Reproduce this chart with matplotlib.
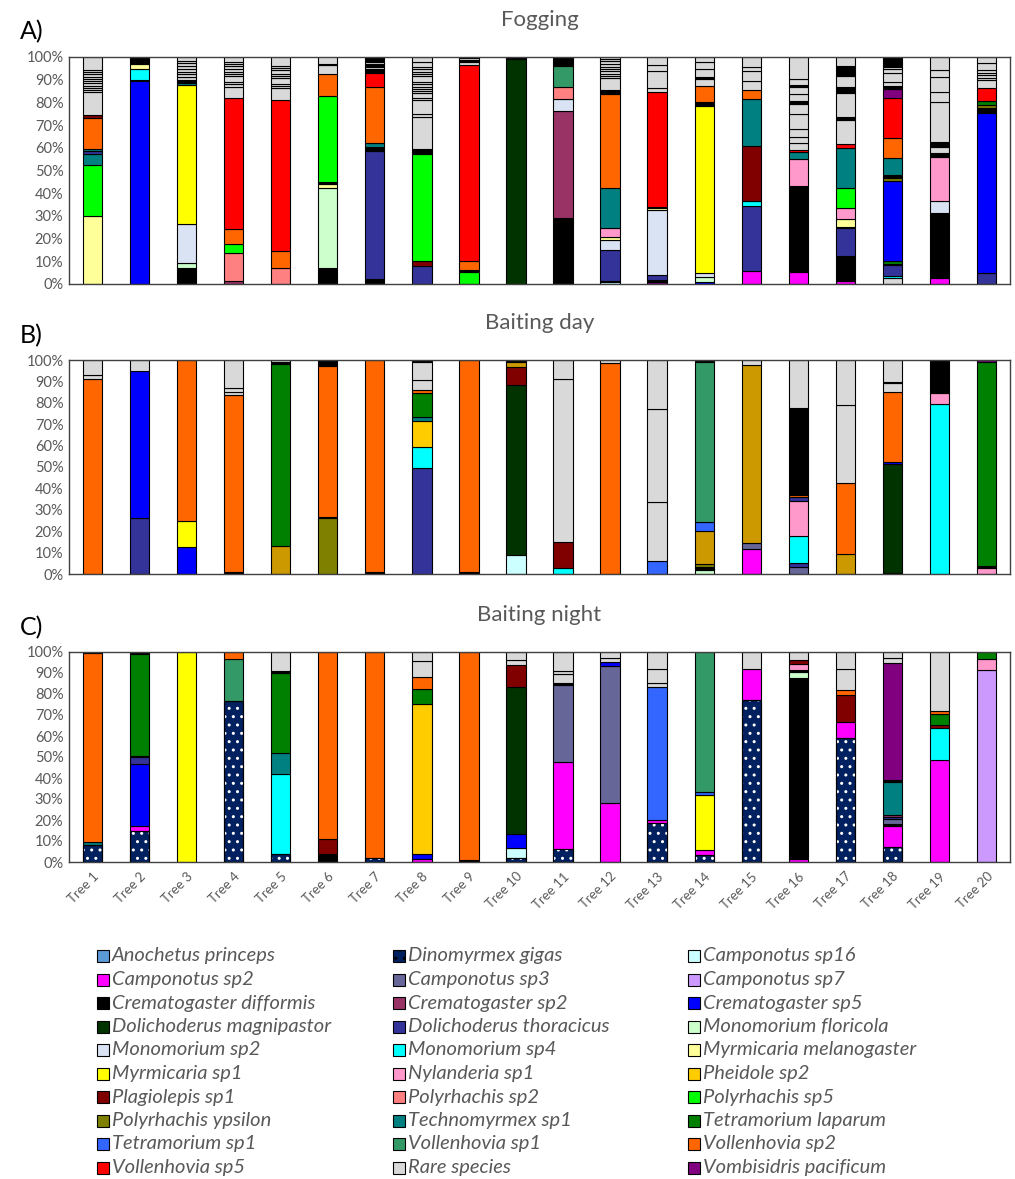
import matplotlib
matplotlib.use("Agg")
import matplotlib.pyplot as plt
from matplotlib.patches import Rectangle

plt.rcParams['font.family'] = ['Lato', 'DejaVu Sans']

# species: code, legend name, colour ('' name = not listed in legend)
codes = ['AP', 'DG', 'C16', 'C2', 'C3', 'C7', 'CD', 'CR2', 'CR5', 'DM',
         'DT', 'MF', 'M2', 'M4', 'MM', 'MY', 'NY', 'PH', 'PL', 'P2',
         'P5', 'PY', 'TE', 'TL', 'T1', 'V1', 'V2', 'V5', 'R', 'VP', 'XX']
names = ['Anochetus princeps', 'Dinomyrmex gigas', 'Camponotus sp16',
         'Camponotus sp2', 'Camponotus sp3', 'Camponotus sp7',
         'Crematogaster difformis', 'Crematogaster sp2', 'Crematogaster sp5',
         'Dolichoderus magnipastor', 'Dolichoderus thoracicus', 'Monomorium floricola',
         'Monomorium sp2', 'Monomorium sp4', 'Myrmicaria melanogaster',
         'Myrmicaria sp1', 'Nylanderia sp1', 'Pheidole sp2',
         'Plagiolepis sp1', 'Polyrhachis sp2', 'Polyrhachis sp5',
         'Polyrhachis ypsilon', 'Technomyrmex sp1', 'Tetramorium laparum',
         'Tetramorium sp1', 'Vollenhovia sp1', 'Vollenhovia sp2',
         'Vollenhovia sp5', 'Rare species', 'Vombisidris pacificum', '']
colors = ['#5B9BD5', '#002060', '#CCFFFF', '#FF00FF', '#666699', '#CC99FF',
          '#000000', '#993366', '#0000FF', '#003300', '#333399', '#CCFFCC',
          '#DAE3F3', '#00FFFF', '#FFFF99', '#FFFF00', '#FF99CC', '#FFCC00',
          '#800000', '#FF8080', '#00FF00', '#808000', '#008080', '#008000',
          '#3366FF', '#339966', '#FF6600', '#FF0000', '#D9D9D9', '#800080',
          '#CC9900']

trees = ['Tree %d' % i for i in range(1, 21)]
yticks = [0, 10, 20, 30, 40, 50, 60, 70, 80, 90, 100]

# stacked composition of each tree, bottom to top, in %
fogging = [
    [('MM', 29.8), ('P5', 22.5), ('TE', 5.1), ('DT', 1.2), ('TE', 1.0), ('V2', 13.4), ('PL', 1.3),
     ('R', 10.1), ('R', 1), ('R', 1), ('R', 1), ('R', 1), ('R', 1), ('R', 1), ('R', 0.9),
     ('R', 1), ('R', 1), ('R', 1), ('R', 5.7)],
    [('CR5', 89.5), ('TE', 0.5), ('M4', 4.5), ('MM', 2.5), ('TE', 0.5), ('CD', 2.5)],
    [('CD', 6.9), ('MF', 2.5), ('M2', 17.2), ('MY', 61.1), ('TE', 1.0), ('CD', 1.2),
     ('R', 1.5), ('R', 1), ('R', 1), ('R', 1.5), ('R', 1), ('R', 1.5), ('R', 1), ('R', 1.6)],
    [('CR2', 1.2), ('P2', 12.3), ('P5', 4.0), ('V2', 6.7), ('V5', 57.9), ('R', 4.9),
     ('R', 1), ('R', 1), ('R', 2.5), ('R', 1), ('R', 1), ('R', 1), ('R', 1.5), ('R', 1), ('R', 1), ('R', 2)],
    [('P2', 7.2), ('V2', 7.3), ('V5', 66.5), ('R', 5.2), ('R', 1), ('R', 1), ('R', 2.5),
     ('R', 1), ('R', 1), ('R', 1.5), ('R', 1), ('R', 1), ('R', 3.8)],
    [('CD', 7.2), ('MF', 34.9), ('MM', 1.8), ('CD', 1.0), ('P5', 37.9), ('V2', 9.7),
     ('R', 4.0), ('CD', 0.5), ('R', 3.5)],
    [('CD', 2.3), ('DT', 56.3), ('CD', 1.9), ('TE', 1.8), ('V2', 24.7), ('V5', 5.8),
     ('CD', 2.0), ('R', 0.8), ('CD', 1.5), ('R', 0.8), ('CD', 2.1)],
    [('DT', 7.9), ('PL', 2.1), ('P5', 47.3), ('CD', 1.6), ('R', 0.5), ('R', 14.3), ('R', 1.2),
     ('R', 6.1), ('R', 1), ('R', 2), ('R', 1), ('R', 1), ('R', 1), ('R', 1), ('R', 1), ('R', 2.5),
     ('R', 1), ('R', 1), ('R', 1), ('R', 1), ('R', 2.5), ('R', 2)],
    [('P5', 5.4), ('CD', 0.8), ('V2', 3.8), ('V5', 86.5), ('R', 1.5), ('CD', 0.5), ('R', 1.0), ('CD', 0.5)],
    [('DM', 99.0), ('CD', 1.0)],
    [('CD', 29.2), ('CR2', 47.0), ('M2', 5.2), ('P2', 5.2), ('V1', 9.6), ('CD', 1.7),
     ('R', 0.5), ('CD', 1.6)],
    [('C16', 1.0), ('CD', 0.5), ('DT', 13.5), ('M2', 4.4), ('MM', 1.4), ('NY', 3.7), ('TE', 17.9),
     ('V2', 41.1), ('CD', 2.0), ('R', 5.1), ('R', 1), ('R', 1), ('R', 1.2), ('R', 1), ('R', 1),
     ('R', 1), ('R', 1.5), ('R', 0.7), ('R', 1)],
    [('VP', 1.0), ('CD', 0.8), ('DT', 2.2), ('M2', 28.6), ('MM', 1.0), ('CD', 0.4), ('V5', 50.4),
     ('R', 2.1), ('R', 7.5), ('R', 2.5), ('R', 3.5)],
    [('CR5', 1.0), ('MF', 2.0), ('M2', 2.0), ('MY', 73.6), ('CD', 1.4), ('V2', 7.2), ('R', 3.3),
     ('CD', 0.8), ('R', 3.4), ('R', 3), ('R', 2.3)],
    [('C2', 5.7), ('DT', 28.8), ('M4', 2.1), ('PL', 24.4), ('TE', 20.5), ('V2', 4.0),
     ('R', 4.1), ('R', 4.1), ('R', 2.0), ('R', 4.3)],
    [('C2', 5.4), ('CD', 37.8), ('NY', 11.7), ('TE', 3.1), ('V5', 1.0), ('R', 3.0), ('R', 2.6),
     ('R', 3.5), ('R', 6.6), ('R', 4.6), ('CD', 1.5), ('R', 3.0), ('R', 2.9), ('CD', 1.0),
     ('R', 2.5), ('R', 9.8)],
    [('C2', 1.5), ('CD', 10.8), ('DT', 12.2), ('CD', 0.8), ('MM', 3.3), ('NY', 5.0), ('P5', 8.5),
     ('TE', 17.7), ('V5', 1.9), ('R', 10.5), ('CD', 1.5), ('R', 10.3), ('CD', 2.6), ('R', 5.0),
     ('CD', 4.4), ('R', 4.0)],
    [('R', 2.8), ('M4', 0.6), ('DT', 5.0), ('CD', 0.6), ('TL', 1.3), ('CR5', 35.1), ('PY', 1.3),
     ('CD', 1.3), ('TE', 7.4), ('V2', 8.8), ('V5', 17.6), ('VP', 4.1), ('CD', 1.3), ('R', 1.8),
     ('R', 4.0), ('R', 1.9), ('R', 0.8), ('CD', 4.3)],
    [('C2', 2.5), ('CD', 28.6), ('M2', 5.6), ('NY', 19.1), ('CD', 1.8), ('R', 2.9), ('CD', 2.2),
     ('R', 17.6), ('R', 4.4), ('R', 6.6), ('R', 3.0), ('R', 5.7)],
    [('DT', 4.7), ('CR5', 70.8), ('CD', 1.9), ('PY', 1.4), ('TL', 2.0), ('V5', 5.4), ('R', 3.7),
     ('R', 1), ('R', 1), ('R', 1), ('R', 1.4), ('R', 3), ('R', 2.7)],
]

baiting_day = [
    [('V2', 91.0), ('R', 2.0), ('R', 7.0)],
    [('DT', 26.3), ('CR5', 68.6), ('R', 5.1)],
    [('CR5', 12.8), ('MY', 12.1), ('V2', 75.1)],
    [('CD', 1.0), ('V2', 82.6), ('R', 1.5), ('R', 1.9), ('R', 13.0)],
    [('XX', 13.1), ('TL', 85.0), ('CD', 0.9), ('R', 1.0)],
    [('PY', 26.0), ('CD', 0.8), ('V2', 70.4), ('CD', 2.8)],
    [('CD', 1.0), ('V2', 99.0)],
    [('DT', 49.4), ('M4', 10.1), ('PH', 12.2), ('TE', 1.5), ('TL', 11.2), ('V2', 1.6),
     ('R', 4.7), ('R', 8.5), ('CD', 0.8)],
    [('CD', 0.8), ('V2', 99.2)],
    [('C16', 8.9), ('DM', 79.4), ('PL', 8.6), ('XX', 2.3), ('CD', 0.8)],
    [('M4', 2.6), ('PL', 12.2), ('R', 76.3), ('R', 8.9)],
    [('V2', 98.4), ('R', 1.6)],
    [('T1', 6.2), ('R', 27.6), ('R', 43.3), ('R', 22.9)],
    [('MF', 1.9), ('CD', 1.5), ('PY', 1.3), ('XX', 15.5), ('T1', 4.3), ('V1', 74.7), ('CD', 0.8)],
    [('C2', 11.7), ('C3', 2.6), ('XX', 83.4), ('R', 2.3)],
    [('C3', 3.4), ('DT', 1.6), ('M4', 12.8), ('NY', 16.5), ('DT', 1.8), ('V2', 0.9),
     ('CD', 40.7), ('R', 22.3)],
    [('XX', 9.2), ('V2', 33.2), ('R', 36.6), ('R', 21.0)],
    [('CD', 0.5), ('DM', 50.7), ('CR5', 1.0), ('V2', 32.7), ('R', 4.5), ('CD', 0.5), ('R', 10.1)],
    [('M4', 79.3), ('NY', 5.4), ('CD', 15.3)],
    [('NY', 2.6), ('CD', 1.3), ('TL', 95.3), ('VP', 0.8)],
]

baiting_night = [
    [('DG', 7.9), ('TE', 1.6), ('V2', 90.0), ('CD', 0.5)],
    [('DG', 14.8), ('C2', 2.3), ('CR5', 29.7), ('DT', 3.2), ('CD', 0.5), ('TL', 48.5), ('CD', 1.0)],
    [('MY', 100.0)],
    [('DG', 76.7), ('V1', 19.8), ('V2', 3.5)],
    [('DG', 3.7), ('M4', 38.4), ('TE', 10.0), ('TL', 37.7), ('CD', 1.2), ('R', 9.0)],
    [('CD', 3.7), ('PL', 7.4), ('V2', 88.9)],
    [('DG', 1.7), ('V2', 98.3)],
    [('C2', 1.3), ('CR5', 2.4), ('PH', 71.7), ('TL', 7.1), ('V2', 5.8), ('R', 7.4), ('R', 4.3)],
    [('CD', 1.0), ('V2', 99.0)],
    [('DG', 2.0), ('C16', 4.8), ('CR5', 6.7), ('DM', 69.8), ('PL', 10.4), ('R', 2.5), ('R', 3.8)],
    [('DG', 6.0), ('C2', 41.8), ('C3', 36.3), ('CD', 1.3), ('R', 4.0), ('R', 1.6), ('R', 9.0)],
    [('C2', 28.3), ('C3', 65.0), ('CR5', 1.9), ('R', 2.1), ('R', 2.7)],
    [('DG', 18.4), ('C2', 1.4), ('T1', 63.5), ('R', 2.1), ('R', 6.3), ('R', 8.3)],
    [('DG', 3.2), ('C2', 2.4), ('MY', 26.1), ('T1', 1.6), ('V1', 66.7)],
    [('DG', 77.0), ('C2', 15.1), ('R', 7.9)],
    [('C2', 1.3), ('CD', 86.5), ('MF', 2.8), ('CD', 0.7), ('NY', 3.1), ('PL', 1.8), ('R', 3.8)],
    [('DG', 58.9), ('C2', 7.8), ('PL', 12.7), ('V2', 2.5), ('R', 10.2), ('R', 7.9)],
    [('DG', 7.1), ('C2', 10.0), ('CD', 0.9), ('C3', 2.3), ('DT', 1.1), ('CR2', 1.0), ('TE', 15.7),
     ('CD', 0.9), ('VP', 55.9), ('R', 2.1), ('R', 3.0)],
    [('C2', 48.4), ('M4', 15.6), ('PL', 1.1), ('TL', 5.2), ('V2', 1.6), ('R', 28.1)],
    [('C7', 91.3), ('NY', 5.2), ('TL', 3.5)],
]

color_of = dict(zip(codes, colors))
grey = '#595959'
W, H = 1015, 1179

fig = plt.figure(figsize=(W / 100, H / 100), dpi=100)


def px_axes(top, bottom, left=69, right=1010):
    return fig.add_axes([left / W, 1 - bottom / H, (right - left) / W, (bottom - top) / H])


def draw_panel(ax, data, title, letter, show_x):
    for i, stack in enumerate(data):
        bottom = 0
        for code, val in stack:
            ax.bar(i, val, width=0.41, bottom=bottom, color=color_of[code],
                   edgecolor='black', linewidth=0.8, zorder=2)
            if code == 'DG':
                # white dotted pattern
                ax.bar(i, val, width=0.41, bottom=bottom, color='none',
                       edgecolor='white', hatch='..', linewidth=0, zorder=3)
                ax.bar(i, val, width=0.41, bottom=bottom, color='none',
                       edgecolor='black', linewidth=0.8, zorder=4)
            bottom += val
    ax.set_xlim(-0.5, 19.5)
    ax.set_ylim(0, 100)
    ax.set_yticks(yticks)
    ax.set_yticklabels(['%d%%' % v for v in yticks], fontsize=10.5, color=grey)
    ax.tick_params(axis='y', length=0, pad=4)
    ax.tick_params(axis='x', length=0)
    ax.set_xticks(range(20))
    if show_x:
        ax.set_xticklabels(trees, rotation=45, ha='right', rotation_mode='anchor',
                           fontsize=9.5, color=grey)
    else:
        ax.set_xticklabels([])
    for s in ax.spines.values():
        s.set_color('#404040')
        s.set_linewidth(1.0)
    ax.set_title(title, fontsize=16, color=grey, pad=22)
    ax.text(-0.052, 1.06, letter, transform=ax.transAxes, fontsize=18, ha='left', va='bottom')


ax_a = px_axes(57, 284)
ax_b = px_axes(360, 574)
ax_c = px_axes(652, 862)
draw_panel(ax_a, fogging, 'Fogging', 'A)', False)
draw_panel(ax_b, baiting_day, 'Baiting day', 'B)', False)
draw_panel(ax_c, baiting_night, 'Baiting night', 'C)', True)
ax_c.tick_params(axis='x', pad=6)

# legend, three columns filled row by row
col_x = [97, 393, 688]
row_y0, row_step = 956, 23.5
listed = [k for k, n in enumerate(names) if n]
for j, k in enumerate(listed):
    r, c = divmod(j, 3)
    x, y = col_x[c], row_y0 + r * row_step
    sq = Rectangle((x / W, 1 - (y + 6) / H), 12 / W, 12 / H, transform=fig.transFigure,
                   facecolor=colors[k], edgecolor='black', linewidth=0.8,
                   hatch='..' if codes[k] == 'DG' else None)
    fig.add_artist(sq)
    fig.text((x + 15) / W, 1 - y / H, names[k], fontsize=14.5, style='italic',
             color=grey, ha='left', va='center')

fig.savefig('out.png', dpi=100)
